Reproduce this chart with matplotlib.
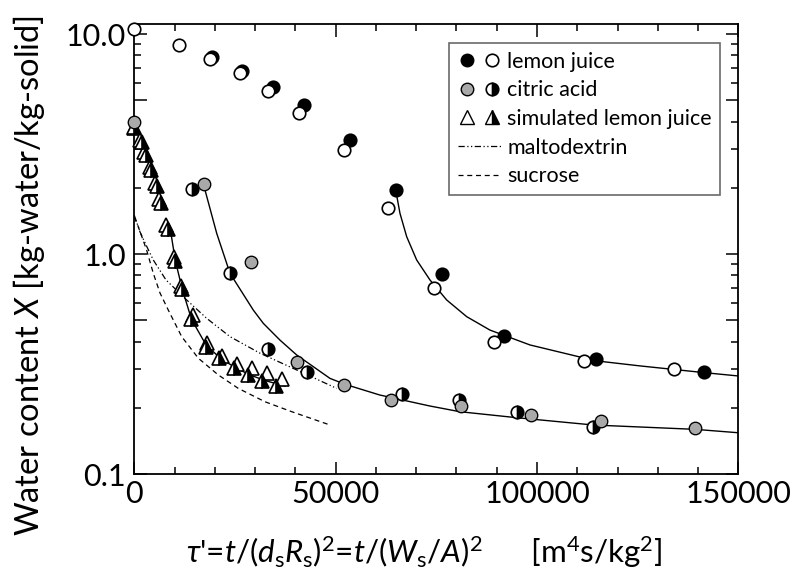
import matplotlib
matplotlib.use("Agg")
import matplotlib.pyplot as plt
from matplotlib.legend_handler import HandlerTuple
from matplotlib.lines import Line2D
from matplotlib.ticker import FixedLocator, FuncFormatter

plt.rcParams['font.family'] = ['Lato', 'DejaVu Sans']
plt.rcParams['mathtext.fontset'] = 'custom'
plt.rcParams['mathtext.rm'] = 'Lato'
plt.rcParams['mathtext.it'] = 'Lato:italic'

# ---------------- data ----------------
# lemon juice
lemon_open_t = [0, 11100, 18870, 26250, 33270, 40900, 52140, 63070, 74420, 89310, 111660, 134000]
lemon_open_X = [10.5, 8.88, 7.72, 6.63, 5.52, 4.39, 2.97, 1.62, 0.70, 0.398, 0.326, 0.300]
lemon_fill_t = [19370, 26820, 34370, 42140, 53560, 64980, 76400, 91790, 114630, 141450]
lemon_fill_X = [7.88, 6.81, 5.72, 4.76, 3.30, 1.95, 0.811, 0.424, 0.333, 0.291]
lemon_fit_t = [64990, 65980, 67650, 70130, 73430, 77580, 82550, 88330, 98270, 114580, 125590, 141460, 150000]
lemon_fit_X = [1.92, 1.53, 1.198, 0.939, 0.762, 0.618, 0.519, 0.451, 0.386, 0.327, 0.310, 0.289, 0.279]

# citric acid
citric_gray_t = [0, 17310, 28900, 40470, 52140, 63660, 81120, 98430, 115880, 139220]
citric_gray_X = [3.99, 2.08, 0.92, 0.324, 0.254, 0.217, 0.204, 0.1854, 0.174, 0.1614]
citric_half_t = [14250, 23760, 33270, 42800, 66390, 80700, 94950, 113970]
citric_half_X = [1.97, 0.817, 0.369, 0.292, 0.231, 0.217, 0.1905, 0.164]
citric_fit_t = [17557, 20463, 23766, 29552, 32036, 36183, 40330, 48600, 52326, 60960, 73430, 80880, 94960, 113990, 139250, 150000]
citric_fit_X = [1.954, 1.242, 0.817, 0.556, 0.484, 0.406, 0.3475, 0.272, 0.2557, 0.2286, 0.2037, 0.1919, 0.1803, 0.167, 0.1596, 0.154]

# simulated lemon juice
sim_open_t = [0, 1416, 2533, 3899, 5141, 6258, 7996, 9859, 11672, 14652, 18054, 21705, 25430, 29155, 32880, 36606]
sim_open_X = [3.74, 3.30, 2.91, 2.49, 2.10, 1.78, 1.355, 0.969, 0.715, 0.528, 0.394, 0.344, 0.316, 0.302, 0.287, 0.269]
sim_half_t = [0, 1838, 2906, 4271, 5563, 6631, 8444, 10182, 11920, 14205, 17806, 21158, 24809, 28236, 31837, 35264]
sim_half_X = [3.78, 3.24, 2.83, 2.42, 2.04, 1.71, 1.295, 0.934, 0.691, 0.505, 0.377, 0.336, 0.304, 0.282, 0.265, 0.2525]
sim_fit_t = [9040, 10182, 11920, 14205, 17806, 21283, 25008, 28733, 32458, 37425]
sim_fit_X = [1.263, 0.934, 0.691, 0.505, 0.386, 0.337, 0.305, 0.282, 0.266, 0.251]

# maltodextrin (dash-dot) and sucrose (dashed)
malto_t = [0, 1416, 2906, 4718, 7873, 13013, 17980, 23766, 31216, 39486, 50264]
malto_X = [1.50, 1.26, 1.10, 0.939, 0.762, 0.618, 0.51, 0.421, 0.354, 0.302, 0.245]
sucrose_t = [0, 993, 3079, 4718, 6382, 8443, 11771, 15894, 20860, 25827, 32457, 39088, 48600]
sucrose_X = [1.47, 1.33, 1.04, 0.817, 0.665, 0.556, 0.421, 0.336, 0.282, 0.245, 0.213, 0.192, 0.167]

x_ticks = [0, 50000, 100000, 150000]
y_major = [0.1, 0.5, 1.0, 5.0, 10.0]
y_labeled = {0.1: "0.1", 1.0: "1.0", 10.0: "10.0"}

# ---------------- figure ----------------
fig = plt.figure(figsize=(7.92, 5.82), dpi=100)
ax = fig.add_axes([134.3 / 792, 1 - 474 / 582, 604 / 792, (474 - 24.3) / 582])

gray = '#a9a9a9'
ms_c = 9
mew = 1.2
ms_t = 10

# curves
ax.plot(lemon_fit_t, lemon_fit_X, '-', color='black', lw=1.0, zorder=2)
ax.plot(citric_fit_t, citric_fit_X, '-', color='black', lw=1.0, zorder=2)
ax.plot(sim_fit_t, sim_fit_X, '-', color='black', lw=1.0, zorder=2)
ax.plot(malto_t, malto_X, color='black', lw=0.9, dashes=[5, 2, 1, 2, 1, 2], zorder=2)
ax.plot(sucrose_t, sucrose_X, color='black', lw=0.9, dashes=[4, 3], zorder=2)

# markers
kw = dict(ls='none', clip_on=False)
ax.plot(lemon_fill_t, lemon_fill_X, 'o', ms=ms_c, mfc='black', mec='black', mew=mew, zorder=3, **kw)
ax.plot(lemon_open_t, lemon_open_X, 'o', ms=ms_c, mfc='white', mec='black', mew=mew, zorder=4, **kw)
ax.plot(citric_half_t, citric_half_X, 'o', ms=ms_c, mfc='black', mfcalt='white', fillstyle='right',
        mec='black', mew=mew, zorder=3, **kw)
ax.plot(sim_open_t, sim_open_X, '^', ms=ms_t, mfc='white', mec='black', mew=mew, zorder=3, **kw)
ax.plot(sim_half_t, sim_half_X, '^', ms=ms_t, mfc='black', mfcalt='white', fillstyle='right',
        mec='black', mew=mew, zorder=3.5, **kw)
ax.plot(citric_gray_t, citric_gray_X, 'o', ms=ms_c, mfc=gray, mec='black', mew=mew * 0.8, zorder=5, **kw)

# axes
ax.set_yscale('log')
ax.set_xlim(0, 150000)
ax.set_ylim(0.1, 11.07)
ax.xaxis.set_major_locator(FixedLocator(x_ticks))
ax.xaxis.set_minor_locator(FixedLocator(list(range(0, 150001, 10000))))
ax.xaxis.set_major_formatter(FuncFormatter(lambda v, p: "%d" % v))
ax.yaxis.set_major_locator(FixedLocator(y_major))
minors = [m * d for d in (0.1, 1.0) for m in (2, 3, 4, 6, 7, 8, 9)]
ax.yaxis.set_minor_locator(FixedLocator(minors))
ax.yaxis.set_major_formatter(FuncFormatter(lambda v, p: y_labeled.get(round(v, 3), "")))
ax.yaxis.set_minor_formatter(FuncFormatter(lambda v, p: ""))
ax.tick_params(which='both', direction='in', top=True, right=True, width=1.1, colors='black')
ax.tick_params(which='major', length=9, labelsize=22)
ax.tick_params(which='minor', length=5)
ax.tick_params(axis='x', which='major', pad=4)
ax.tick_params(axis='y', which='major', pad=6)
for s in ax.spines.values():
    s.set_linewidth(1.3)
    s.set_color('black')

fig.text(29 / 792, 1 - 275 / 582, "Water content $\\it{X}$ [kg-water/kg-solid]", rotation=90,
         ha='center', va='center', fontsize=23.5)
fig.text(424 / 792, 1 - 552 / 582,
         r"$\tau$'=$t$/($d_{\rm s}R_{\rm s}$)$^2$=$t$/($W_{\rm s}$/$A$)$^2$      [m$^4$s/kg$^2$]",
         ha='center', va='center', fontsize=22.5)

# legend
h_lemon = (Line2D([], [], marker='o', ms=ms_c, mfc='black', mec='black', ls='none'),
           Line2D([], [], marker='o', ms=ms_c, mfc='white', mec='black', mew=mew, ls='none'))
h_citric = (Line2D([], [], marker='o', ms=ms_c, mfc=gray, mec='black', ls='none'),
            Line2D([], [], marker='o', ms=ms_c, mfc='black', mfcalt='white', fillstyle='right', mec='black', mew=mew, ls='none'))
h_sim = (Line2D([], [], marker='^', ms=ms_t, mfc='white', mec='black', mew=1.0, ls='none'),
         Line2D([], [], marker='^', ms=ms_t, mfc='black', mfcalt='white', fillstyle='right', mec='black', mew=1.0, ls='none'))
h_malto = Line2D([], [], color='black', lw=0.9, dashes=[5, 2, 1, 2, 1, 2])
h_suc = Line2D([], [], color='black', lw=0.9, dashes=[4, 3])
leg = ax.legend([h_lemon, h_citric, h_sim, h_malto, h_suc],
                ["lemon juice", "citric acid", "simulated lemon juice", "maltodextrin", "sucrose"],
                handler_map={tuple: HandlerTuple(ndivide=None, pad=0.3)},
                loc='upper left', bbox_to_anchor=(0.521, 0.958), borderaxespad=0,
                fontsize=15.5, frameon=True, fancybox=False, handlelength=2.0, handletextpad=0.3,
                labelspacing=0.4, borderpad=0.4)
leg.get_frame().set_edgecolor('#444444')
leg.get_frame().set_linewidth(1.2)

fig.savefig("out.png", dpi=100)
